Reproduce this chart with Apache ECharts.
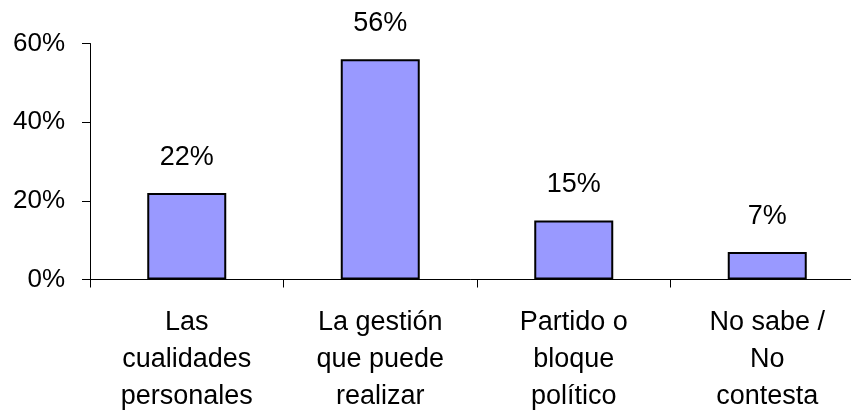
<!DOCTYPE html>
<html><head><meta charset="utf-8">
<script src="https://cdn.jsdelivr.net/npm/echarts@6/dist/echarts.min.js"></script>
<style>html,body{margin:0;padding:0;background:#fff}#c{width:851px;height:411px}</style>
</head><body><div id="c"></div>
<script>
var categories = ['Las\ncualidades\npersonales', 'La gestión\nque puede\nrealizar', 'Partido o\nbloque\npolítico', 'No sabe /\nNo\ncontesta'];
var values = [22, 56, 15, 7];
var yTicks = [0, 20, 40, 60];

var chart = echarts.init(document.getElementById('c'), null, {renderer: 'canvas'});
var font = 'Liberation Sans, Arial, sans-serif';
chart.setOption({
  animation: false,
  grid: {left: 90, right: -13, top: 43.5, bottom: 131.5, containLabel: false, outerBoundsMode: 'none'},
  xAxis: {
    type: 'category', data: categories,
    axisLine: {lineStyle: {color: '#000', width: 1}},
    axisTick: {show: true, length: 8, lineStyle: {color: '#000'}},
    axisLabel: {color: '#000', fontSize: 27, fontFamily: font, lineHeight: 37, margin: 25}
  },
  yAxis: {
    type: 'value', min: yTicks[0], max: yTicks[yTicks.length - 1], interval: 20,
    splitLine: {show: false},
    axisLine: {show: true, lineStyle: {color: '#000', width: 1}},
    axisTick: {show: true, length: 8, lineStyle: {color: '#000'}},
    axisLabel: {color: '#000', fontSize: 26, fontFamily: font, margin: 25, formatter: '{value}%'}
  },
  series: [{
    type: 'bar', data: values, barWidth: 79,
    itemStyle: {color: '#9999ff', borderColor: '#000', borderWidth: 2},
    label: {show: true, position: 'top', distance: 22, color: '#000', fontSize: 27, fontFamily: font, formatter: '{c}%'}
  }]
});
</script></body></html>
